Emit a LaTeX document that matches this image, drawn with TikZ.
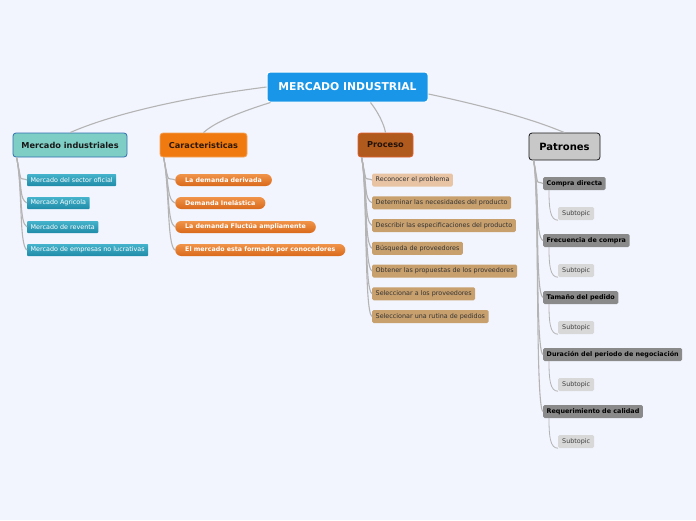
\documentclass[tikz,border=0pt]{standalone}
\usepackage{fontspec}
\setmainfont{DejaVu Sans}
\definecolor{fondo}{HTML}{F2F5FE}
\definecolor{raiz}{HTML}{1A96E8}
\definecolor{miF}{HTML}{7ECEC6}
\definecolor{miB}{HTML}{2F6FB0}
\definecolor{carF}{HTML}{F07A10}
\definecolor{proF}{HTML}{B05A1E}
\definecolor{proB}{HTML}{E06030}
\definecolor{patF}{HTML}{C8C8C8}
\definecolor{tealA}{HTML}{45B3CB}
\definecolor{tealB}{HTML}{1F8BA8}
\definecolor{naraA}{HTML}{F0944A}
\definecolor{naraB}{HTML}{D9691A}
\definecolor{procF}{HTML}{C8A06E}
\definecolor{proclt}{HTML}{E8C4A4}
\definecolor{grisF}{HTML}{8A8A8A}
\definecolor{subF}{HTML}{D8D8D8}
\definecolor{enlace}{HTML}{B4B4B4}
\tikzset{
  raizbox/.style={draw=white,line width=1pt,fill=raiz,rounded corners=3pt,text=white,
    font=\fontsize{10.8}{12}\selectfont\bfseries,minimum width=161pt,minimum height=30pt},
  ramabox/.style={rounded corners=3pt,line width=0.8pt,font=\fontsize{8.2}{9}\selectfont\bfseries,minimum height=24pt},
  hoja/.style={anchor=west,minimum height=12pt,inner xsep=3.5pt,inner ysep=1pt,
    font=\fontsize{6.4}{7}\selectfont},
  tealbox/.style={hoja,top color=tealA,bottom color=tealB,text=white,rounded corners=0.8pt},
  narabox/.style={hoja,top color=naraA,bottom color=naraB,text=white,rounded corners=6pt,
    inner xsep=10pt,font=\fontsize{6.3}{7}\selectfont\bfseries},
  procbox/.style={hoja,text=black!80,rounded corners=1.5pt,minimum height=13pt},
  grisbox/.style={hoja,fill=grisF,text=black,rounded corners=1.5pt,minimum height=13pt,
    font=\fontsize{6.4}{7}\selectfont\bfseries},
  subbox/.style={hoja,fill=subF,text=black!75,rounded corners=1.5pt,minimum height=13pt,inner xsep=4pt},
  enlace/.style={draw=enlace,line width=1.1pt},
}
\begin{document}
\begin{tikzpicture}[x=1pt,y=-1pt]
  % fondo
  \fill[fondo] (0,0) rectangle (696,520);
  \useasboundingbox (0,0) rectangle (696,520);
  % nodo central y ramas
  \node[raizbox] (raiz) at (347.5,87) {MERCADO INDUSTRIAL};
  \node[ramabox,draw=miB,fill=miF,text=black!90,minimum width=114pt] (mi) at (70,145) {Mercado industriales};
  \node[ramabox,draw=carF!70!white,fill=carF,text=black!80!carF,minimum width=87pt] (car) at (203.5,145) {Caracteristicas};
  \node[ramabox,draw=proB,fill=proF,text=black!80!proF,minimum width=55pt] (pro) at (385.5,145) {Proceso};
  \node[ramabox,draw=black!90,fill=patF,text=black,minimum width=71pt,minimum height=27pt,
    font=\fontsize{10}{12}\selectfont\bfseries] (pat) at (564.5,146.5) {Patrones};
  % enlaces del centro
  \draw[enlace] (raiz.west) .. controls (180,98) and (110,115) .. (mi.north);
  \draw[enlace] ([xshift=4pt]raiz.south west) .. controls (240,112) and (215,122) .. (car.north);
  \draw[enlace] ([xshift=-58pt]raiz.south east) .. controls (378,112) and (384,124) .. (pro.north);
  \draw[enlace] ([yshift=-7pt]raiz.east) .. controls (480,105) and (530,118) .. (pat.north);
  % Mercado industriales
  \coordinate (mi-c) at ([xshift=4pt]mi.south west);
  \foreach \t/\y [count=\i] in {Mercado del sector oficial/180, Mercado Agricola/203,
      Mercado de reventa/227, Mercado de empresas no lucrativas/250}{
    \node[tealbox] (mi-\i) at (27,\y) {\t};
    \draw[enlace] (mi-c) .. controls +(6,30) and +(-8,-4) .. (mi-\i.west);
  }
  % Caracteristicas
  \coordinate (car-c) at ([xshift=4pt]car.south west);
  \foreach \t/\y [count=\i] in {La demanda derivada/180, Demanda Inelástica/203,
      La demanda Fluctúa ampliamente/227, El mercado esta formado por conocedores/250}{
    \node[narabox] (car-\i) at (175,\y) {\t};
    \draw[enlace] (car-c) .. controls +(6,30) and +(-8,-4) .. (car-\i.west);
  }
  % Proceso
  \coordinate (pro-c) at ([xshift=4pt]pro.south west);
  \foreach \t/\c [count=\i] in {Reconocer el problema/proclt,
      Determinar las necesidades del producto/procF,
      Describir las especificaciones del producto/procF,
      Búsqueda de proveedores/procF,
      Obtener las propuestas de los proveedores/procF,
      Seleccionar a los proveedores/procF,
      Seleccionar una rutina de pedidos/procF}{
    \node[procbox,fill=\c] (pro-\i) at (372,{180+22.75*(\i-1)}) {\t};
    \draw[enlace] (pro-c) .. controls +(6,30) and +(-8,-4) .. (pro-\i.west);
  }
  % Patrones
  \coordinate (pat-c) at ([xshift=5pt]pat.south west);
  \foreach \t [count=\i] in {Compra directa, Frecuencia de compra, Tamaño del pedido,
      Duración del periodo de negociación, Requerimiento de calidad}{
    \node[grisbox] (pat-\i) at (543,{183.5+57*(\i-1)}) {\t};
    \node[subbox] (sub-\i) at (558,{213.5+57*(\i-1)}) {Subtopic};
    \draw[enlace] (pat-c) .. controls +(6,30) and +(-8,-4) .. (pat-\i.west);
    \draw[enlace,line width=0.8pt] ([xshift=6pt]pat-\i.south west) .. controls +(0,18) and +(-8,0) .. (sub-\i.south west);
  }
\end{tikzpicture}
\end{document}
